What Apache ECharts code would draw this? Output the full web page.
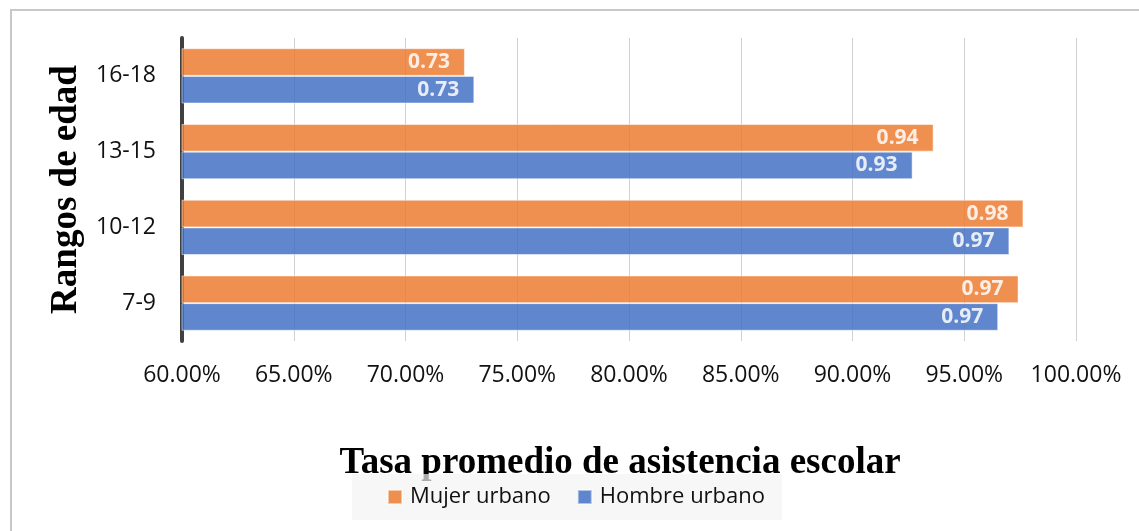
<!DOCTYPE html>
<html>
<head>
<meta charset="utf-8">
<script src="https://cdn.jsdelivr.net/npm/echarts@6/dist/echarts.min.js"></script>
<style>
  html, body { margin: 0; padding: 0; background: #fff; }
  #chart { width: 1139px; height: 531px; }
</style>
</head>
<body>
<div id="chart"></div>
<script>
// categories bottom -> top
var ageRanges = ['7-9', '10-12', '13-15', '16-18']
var seriesNames = ['Mujer urbano', 'Hombre urbano']
var mujerUrbano = [0.9743, 0.9765, 0.9363, 0.7266]
var hombreUrbano = [0.9652, 0.9702, 0.9269, 0.7308]
var xTicks = { min: 0.6, max: 1.0, step: 0.05 }

var labelFont = "'Open Sans', 'Noto Sans', sans-serif"
var titleFont = "'Liberation Serif', 'DejaVu Serif', serif"

var chart = echarts.init(document.getElementById('chart'))

function barSeries (name, values, color) {
  return {
    name: name,
    type: 'bar',
    data: values,
    barGap: '0%',
    barCategoryGap: '27%',
    itemStyle: {
      color: color,
      opacity: 0.85,
      borderColor: 'rgba(255,255,255,0.6)',
      borderWidth: 1
    },
    label: {
      show: true,
      position: 'insideRight',
      distance: 15,
      color: '#fff',
      fontFamily: labelFont,
      fontWeight: 'bold',
      fontSize: 21,
      formatter: function (p) { return p.value.toFixed(2) }
    }
  }
}

var option = {
  backgroundColor: '#fff',
  animation: false,
  graphic: [{
    type: 'rect',
    shape: { x: 11, y: 10, width: 1300, height: 700 },
    style: { fill: 'none', stroke: '#c8c8c8', lineWidth: 2 },
    silent: true
  }],
  grid: { left: 182, right: 63, top: 38, bottom: 190 },
  legend: {
    data: seriesNames,
    left: 352,
    top: 474,
    padding: [12, 17, 12, 35],
    backgroundColor: 'rgba(244,244,244,0.7)',
    itemWidth: 14,
    itemHeight: 14,
    itemGap: 26,
    icon: 'rect',
    textStyle: { fontFamily: labelFont, fontSize: 22, color: '#111', padding: [0, 0, 0, 3] }
  },
  xAxis: {
    type: 'value',
    min: xTicks.min,
    max: xTicks.max,
    interval: xTicks.step,
    name: 'Tasa promedio de asistencia escolar',
    nameLocation: 'middle',
    nameGap: 104,
    nameTextStyle: {
      fontFamily: titleFont,
      fontWeight: 'bold',
      fontSize: 37,
      color: '#000',
      padding: [0, 18, 0, 0]
    },
    axisLine: { show: false },
    axisTick: { show: false },
    splitLine: { show: true, lineStyle: { color: '#d0d0d0', width: 1 } },
    axisLabel: {
      margin: 23,
      fontFamily: labelFont,
      fontSize: 23,
      color: '#111',
      formatter: function (v) { return (v * 100).toFixed(2) + '%' }
    }
  },
  yAxis: {
    type: 'category',
    data: ageRanges,
    name: 'Rangos de edad',
    nameLocation: 'middle',
    nameGap: 92,
    nameRotate: 90,
    nameTextStyle: { fontFamily: titleFont, fontWeight: 'bold', fontSize: 37, color: '#000' },
    axisLine: { show: true, lineStyle: { color: '#404040', width: 4 } },
    axisTick: { show: false },
    axisLabel: { margin: 26, fontFamily: labelFont, fontSize: 23, color: '#111' }
  },
  series: [
    barSeries(seriesNames[0], mujerUrbano, '#ED7D31'),
    barSeries(seriesNames[1], hombreUrbano, '#4472C4')
  ]
}

chart.setOption(option)
</script>
</body>
</html>
